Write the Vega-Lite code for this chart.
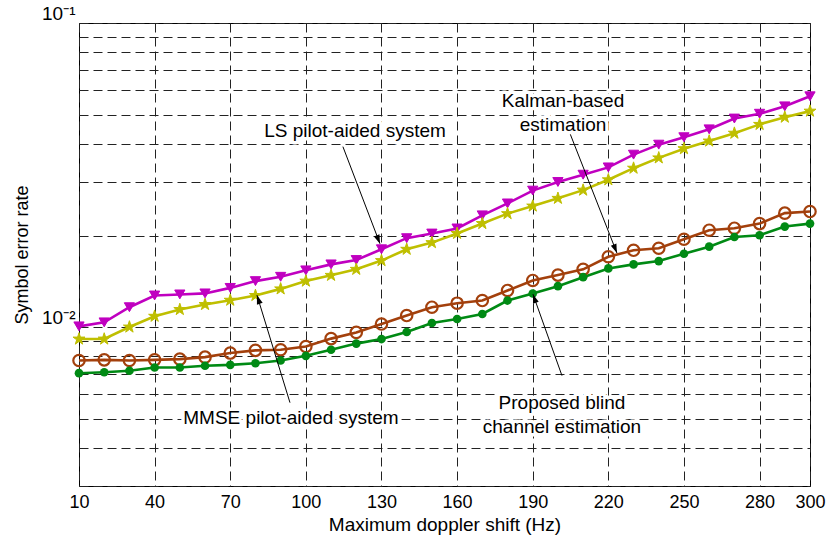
{
  "$schema": "https://vega.github.io/schema/vega-lite/v6.json",
  "width": 731,
  "height": 463,
  "autosize": {"type": "none"},
  "padding": {"left": 79, "top": 23, "right": 17, "bottom": 53},
  "background": "white",
  "config": {
    "font": "Liberation Sans",
    "view": {"stroke": "black", "strokeWidth": 1},
    "axis": {"labelFont": "Liberation Sans", "titleFont": "Liberation Sans", "labelColor": "black", "titleColor": "black", "titleFontWeight": "normal"}
  },
  "datasets": {
    "sim": [
      {"x": 10, "LS": 0.01005, "MMSE": 0.00913, "Kalman": 0.00776, "Proposed": 0.00705},
      {"x": 20, "LS": 0.01036, "MMSE": 0.00913, "Kalman": 0.0078, "Proposed": 0.0071},
      {"x": 30, "LS": 0.01162, "MMSE": 0.0100, "Kalman": 0.00776, "Proposed": 0.00718},
      {"x": 40, "LS": 0.0127, "MMSE": 0.01085, "Kalman": 0.0078, "Proposed": 0.00736},
      {"x": 50, "LS": 0.0128, "MMSE": 0.01142, "Kalman": 0.00784, "Proposed": 0.00736},
      {"x": 60, "LS": 0.0129, "MMSE": 0.01186, "Kalman": 0.00796, "Proposed": 0.00746},
      {"x": 70, "LS": 0.01345, "MMSE": 0.01225, "Kalman": 0.00821, "Proposed": 0.00751},
      {"x": 80, "LS": 0.01416, "MMSE": 0.0127, "Kalman": 0.00838, "Proposed": 0.0076},
      {"x": 90, "LS": 0.01463, "MMSE": 0.01335, "Kalman": 0.00842, "Proposed": 0.00776},
      {"x": 100, "LS": 0.01536, "MMSE": 0.01416, "Kalman": 0.00863, "Proposed": 0.00804},
      {"x": 110, "LS": 0.01607, "MMSE": 0.01479, "Kalman": 0.00916, "Proposed": 0.00842},
      {"x": 120, "LS": 0.01661, "MMSE": 0.01548, "Kalman": 0.0096, "Proposed": 0.00882},
      {"x": 130, "LS": 0.01802, "MMSE": 0.01654, "Kalman": 0.01023, "Proposed": 0.00913},
      {"x": 140, "LS": 0.0196, "MMSE": 0.01802, "Kalman": 0.01091, "Proposed": 0.00963},
      {"x": 150, "LS": 0.0203, "MMSE": 0.01895, "Kalman": 0.01162, "Proposed": 0.01031},
      {"x": 160, "LS": 0.0211, "MMSE": 0.02032, "Kalman": 0.01198, "Proposed": 0.01063},
      {"x": 170, "LS": 0.0233, "MMSE": 0.0219, "Kalman": 0.01222, "Proposed": 0.01104},
      {"x": 180, "LS": 0.0255, "MMSE": 0.0236, "Kalman": 0.01319, "Proposed": 0.01222},
      {"x": 190, "LS": 0.0281, "MMSE": 0.025, "Kalman": 0.01423, "Proposed": 0.01289},
      {"x": 200, "LS": 0.03, "MMSE": 0.0265, "Kalman": 0.01482, "Proposed": 0.01363},
      {"x": 210, "LS": 0.0317, "MMSE": 0.0282, "Kalman": 0.01548, "Proposed": 0.01459},
      {"x": 220, "LS": 0.0335, "MMSE": 0.0305, "Kalman": 0.01703, "Proposed": 0.01559},
      {"x": 230, "LS": 0.0369, "MMSE": 0.0333, "Kalman": 0.01788, "Proposed": 0.01607},
      {"x": 240, "LS": 0.0398, "MMSE": 0.036, "Kalman": 0.01816, "Proposed": 0.01648},
      {"x": 250, "LS": 0.0421, "MMSE": 0.0386, "Kalman": 0.01944, "Proposed": 0.01742},
      {"x": 260, "LS": 0.0447, "MMSE": 0.0409, "Kalman": 0.02082, "Proposed": 0.01838},
      {"x": 270, "LS": 0.0485, "MMSE": 0.0434, "Kalman": 0.02114, "Proposed": 0.01978},
      {"x": 280, "LS": 0.0503, "MMSE": 0.0464, "Kalman": 0.02189, "Proposed": 0.02004},
      {"x": 290, "LS": 0.0532, "MMSE": 0.049, "Kalman": 0.02369, "Proposed": 0.0214},
      {"x": 300, "LS": 0.0574, "MMSE": 0.0513, "Kalman": 0.02398, "Proposed": 0.02189}
    ],
    "notes": [
      {"x": 119.5, "y": 0.0443, "text": "LS pilot-aided system"},
      {"x": 202, "y": 0.0556, "text": "Kalman-based\nestimation"},
      {"x": 94.1, "y": 0.005005, "text": "MMSE pilot-aided system"},
      {"x": 201.6, "y": 0.00564, "text": "Proposed blind\nchannel estimation"}
    ],
    "arrows": [
      {"id": "LS", "x0": 114.7, "y0": 0.0392, "x": 129.4, "y": 0.0188},
      {"id": "Kalman", "x0": 204, "y0": 0.045, "x": 223.4, "y": 0.01752},
      {"id": "MMSE", "x0": 93.7, "y0": 0.00564, "x": 80.6, "y": 0.01273},
      {"id": "Proposed", "x0": 201.6, "y0": 0.00692, "x": 190.1, "y": 0.01282}
    ]
  },
  "encoding": {
    "x": {
      "field": "x", "type": "quantitative",
      "scale": {"domain": [10, 300], "nice": false, "zero": false},
      "axis": {
        "title": "Maximum doppler shift (Hz)",
        "values": [10, 40, 70, 100, 130, 160, 190, 220, 250, 280, 300],
        "labelFontSize": 18, "titleFontSize": 19, "labelPadding": 7, "titlePadding": 4,
        "ticks": false, "domain": false,
        "grid": true, "gridColor": "#222", "gridDash": [9, 5], "gridWidth": 1, "gridOpacity": 1,
        "labelFlush": false
      }
    },
    "y": {
      "field": "y", "type": "quantitative",
      "scale": {"type": "log", "domain": [0.003, 0.1], "nice": false},
      "axis": {
        "title": "Symbol error rate",
        "values": [0.003, 0.004, 0.005, 0.006, 0.007, 0.008, 0.009, 0.01, 0.02, 0.03, 0.04, 0.05, 0.06, 0.07, 0.08, 0.09, 0.1],
        "labelExpr": "datum.value == 0.1 ? '10⁻¹' : (datum.value == 0.01 ? '10⁻²' : '')",
        "labelFontSize": 19, "titleFontSize": 18, "labelPadding": 4, "titlePadding": 10,
        "labelBaseline": "bottom",
        "ticks": false, "domain": false,
        "grid": true, "gridColor": "#222", "gridDash": [9, 5], "gridWidth": 1, "gridOpacity": 1
      }
    }
  },
  "layer": [
    {
      "data": {"name": "sim"},
      "transform": [{"fold": ["LS", "MMSE", "Kalman", "Proposed"], "as": ["series", "y"]}],
      "mark": {"type": "line", "strokeWidth": 2.6},
      "encoding": {
        "color": {"field": "series", "type": "nominal", "legend": null,
          "scale": {"domain": ["LS", "MMSE", "Kalman", "Proposed"], "range": ["#C000C0", "#BFBF00", "#A3400C", "#008A14"]}}
      }
    },
    {
      "data": {"name": "sim"},
      "transform": [{"fold": ["LS"], "as": ["series", "y"]}],
      "mark": {"type": "point", "shape": "triangle-down", "filled": true, "size": 105, "color": "#C000C0", "stroke": "#C000C0", "strokeWidth": 1, "opacity": 1}
    },
    {
      "data": {"name": "sim"},
      "transform": [{"fold": ["MMSE"], "as": ["series", "y"]}],
      "mark": {"type": "point", "shape": "M0,-1L0.2245,-0.309L0.9511,-0.309L0.3633,0.118L0.5878,0.809L0,0.382L-0.5878,0.809L-0.3633,0.118L-0.9511,-0.309L-0.2245,-0.309Z", "filled": true, "size": 160, "color": "#BFBF00", "stroke": "#BFBF00", "strokeWidth": 1, "opacity": 1}
    },
    {
      "data": {"name": "sim"},
      "transform": [{"fold": ["Kalman"], "as": ["series", "y"]}],
      "mark": {"type": "point", "shape": "circle", "filled": false, "size": 130, "stroke": "#A3400C", "fill": "white", "fillOpacity": 0, "strokeWidth": 2.2, "opacity": 1}
    },
    {
      "data": {"name": "sim"},
      "transform": [{"fold": ["Proposed"], "as": ["series", "y"]}],
      "mark": {"type": "point", "shape": "circle", "filled": true, "size": 75, "color": "#008A14", "opacity": 1}
    },
    {
      "data": {"name": "arrows"},
      "mark": {"type": "rule", "color": "black", "strokeWidth": 1},
      "encoding": {"x2": {"field": "x0"}, "y2": {"field": "y0"}}
    },
    {
      "data": {"name": "arrows"},
      "transform": [{"filter": "datum.id == 'LS' || datum.id == 'Kalman'"}],
      "mark": {"type": "point", "shape": "M0,0L-1,3L1,3Z", "filled": true, "size": 36, "color": "black", "opacity": 1, "angle": 158.5}
    },
    {
      "data": {"name": "arrows"},
      "transform": [{"filter": "datum.id == 'MMSE' || datum.id == 'Proposed'"}],
      "mark": {"type": "point", "shape": "M0,0L-1,3L1,3Z", "filled": true, "size": 36, "color": "black", "opacity": 1, "angle": 341.5}
    },
    {
      "data": {"name": "notes"},
      "mark": {"type": "text", "font": "Liberation Sans", "fontSize": 19, "lineBreak": "\n", "lineHeight": 24, "align": "center", "baseline": "middle", "color": "white", "stroke": "white", "strokeWidth": 7, "strokeJoin": "round"},
      "encoding": {"text": {"field": "text"}}
    },
    {
      "data": {"name": "notes"},
      "mark": {"type": "text", "font": "Liberation Sans", "fontSize": 19, "lineBreak": "\n", "lineHeight": 24, "align": "center", "baseline": "middle", "color": "black"},
      "encoding": {"text": {"field": "text"}}
    }
  ]
}
